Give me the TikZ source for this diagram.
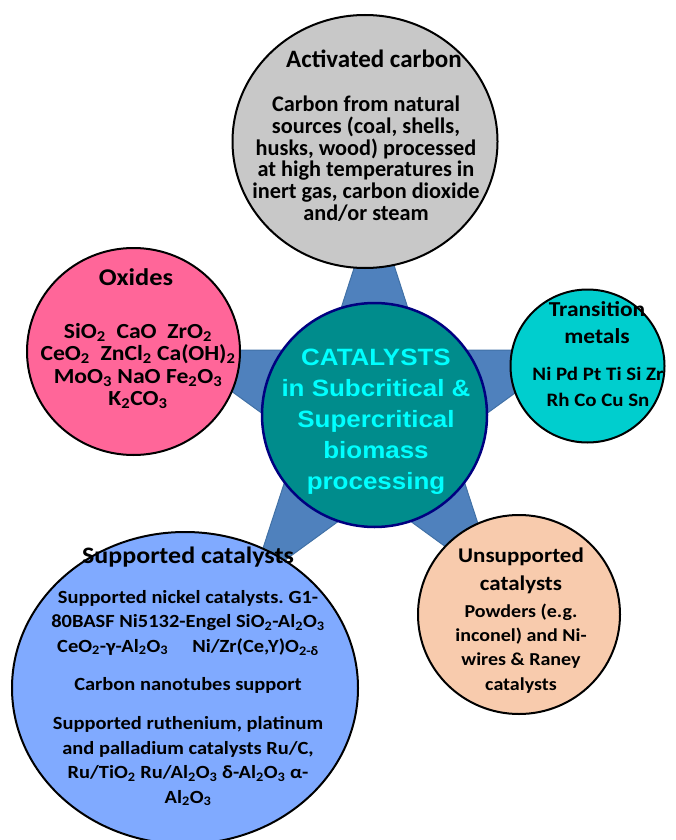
\documentclass[tikz,border=0pt]{standalone}
\usepackage{fontspec}
\setmainfont{Carlito}
\newfontfamily\cbs{Carlito}[FakeStretch=1.1]
\newfontfamily\arialfont{Liberation Sans}[FakeStretch=1.1]
\usetikzlibrary{shapes.geometric}
\frenchspacing
\definecolor{starblue}{RGB}{79,129,189}
\definecolor{staredge}{RGB}{65,113,166}
\definecolor{greyfill}{RGB}{200,200,200}
\definecolor{pinkfill}{RGB}{255,102,153}
\definecolor{cyanfill}{RGB}{0,206,206}
\definecolor{tealfill}{RGB}{0,140,140}
\definecolor{navyline}{RGB}{0,0,128}
\definecolor{peachfill}{RGB}{248,203,173}
\definecolor{bluefill}{RGB}{128,170,255}
\definecolor{cyantext}{RGB}{0,255,255}
\newcommand\subs[1]{\textsubscript{#1}}
\newcommand\tstrut{\vrule height 0.9em depth 0pt width 0pt}
\newcommand\fsz[2]{\fontsize{#1}{#2}\selectfont}
\tikzset{
  bubble/.style={ellipse, draw=black, line width=2pt, inner sep=0pt},
  txt/.style={inner sep=0pt, align=center},
  startop/.style={fill=starblue, draw=staredge, line width=1pt, line join=miter},
}
\begin{document}
\begin{tikzpicture}[x=1pt,y=-1pt]
\useasboundingbox (0,0) rectangle (676,840);
\clip (0,0) rectangle (676,840);
% star
\begin{scope}[shift={(374.5,415)}]
\draw[startop] (270:210) -- (306:80) -- (342:210) -- (18:80) -- (54:210) -- (90:80)
  -- (126:210) -- (162:80) -- (198:210) -- (234:80) -- cycle;
\end{scope}
% bubbles
\node[bubble, fill=greyfill, minimum width=265pt, minimum height=253pt] (act) at (365,141.5) {};
\node[bubble, fill=pinkfill, minimum width=213pt, minimum height=207pt] (oxi) at (133.5,351.5) {};
\node[bubble, fill=cyanfill, minimum width=154pt, minimum height=153pt] (tra) at (587.5,366) {};
\node[bubble, fill=peachfill, minimum width=202pt, minimum height=199pt] (uns) at (519,614.5) {};
\node[bubble, fill=bluefill, minimum width=346pt, minimum height=312pt] (sup) at (185,688) {};
\node[ellipse, fill=tealfill, draw=navyline, line width=2.5pt, inner sep=0pt,
  minimum width=225pt, minimum height=224pt] (cat) at (374.5,415) {};
% texts
\node[txt, font=\bfseries\fsz{25}{30}, anchor=base] (actT) at (374,68) {Activated carbon};
\node[txt, font=\bfseries\fsz{22.3}{21.7}, anchor=north] (actB) at (366,91.6)
  {\tstrut Carbon from natural\\ sources (coal, shells,\\ husks, wood) processed\\ at high temperatures in\\ inert gas, carbon dioxide\\ and/or steam};
\node[txt, font=\cbs\bfseries\fsz{24}{28}, anchor=base] (oxiT) at (136,285) {Oxides};
\node[txt, font=\cbs\bfseries\fsz{21.5}{22.5}, anchor=north] (oxiB) at (138,318.65)
  {\tstrut SiO\subs{2}\ \ CaO\ \ ZrO\subs{2}\\ CeO\subs{2}\ \ ZnCl\subs{2} Ca(OH)\subs{2}\\ MoO\subs{3} NaO Fe\subs{2}O\subs{3}\\ K\subs{2}CO\subs{3}};
\node[txt, font=\cbs\bfseries\fsz{21.3}{27}, anchor=north] (traT) at (597,296.8)
  {\tstrut Transition\\ metals};
\node[txt, font=\cbs\bfseries\fsz{19}{26.5}, anchor=north] (traB) at (598,362.9)
  {\tstrut Ni Pd Pt Ti Si Zr\\ Rh Co Cu Sn};
\node[txt, font=\arialfont\bfseries\fsz{23.6}{31}, text=cyantext, anchor=north] (catT) at (376,343.8)
  {\tstrut CATALYSTS\\ in Subcritical \&\\ Supercritical\\ biomass\\ processing};
\node[txt, font=\cbs\bfseries\fsz{20.9}{28}, anchor=north] (unsT) at (521,543.2)
  {\tstrut Unsupported\\ catalysts};
\node[txt, font=\cbs\bfseries\fsz{18.2}{24.3}, anchor=north] (unsB) at (521,600.6)
  {\tstrut Powders (e.g.\\ inconel) and Ni-\\ wires \& Raney\\ catalysts};
\node[txt, font=\cbs\bfseries\fsz{23.6}{30}, anchor=base] (supT) at (188,563) {Supported catalysts};
\node[txt, font=\cbs\bfseries\fsz{18.6}{24.4}, anchor=north] (supB) at (188,586.3)
  {\tstrut Supported nickel catalysts. G1-\\ 80BASF Ni5132-Engel SiO\subs{2}-Al\subs{2}O\subs{3}\\
   CeO\subs{2}-γ-Al\subs{2}O\subs{3}\hspace{1.3em}Ni/Zr(Ce,Y)O\subs{2-δ}\\[13.6pt]
   Carbon nanotubes support\\[15.4pt]
   Supported ruthenium, platinum\\ and palladium catalysts Ru/C,\\ Ru/TiO\subs{2} Ru/Al\subs{2}O\subs{3} δ-Al\subs{2}O\subs{3} α-\\ Al\subs{2}O\subs{3}};
\end{tikzpicture}
\end{document}
